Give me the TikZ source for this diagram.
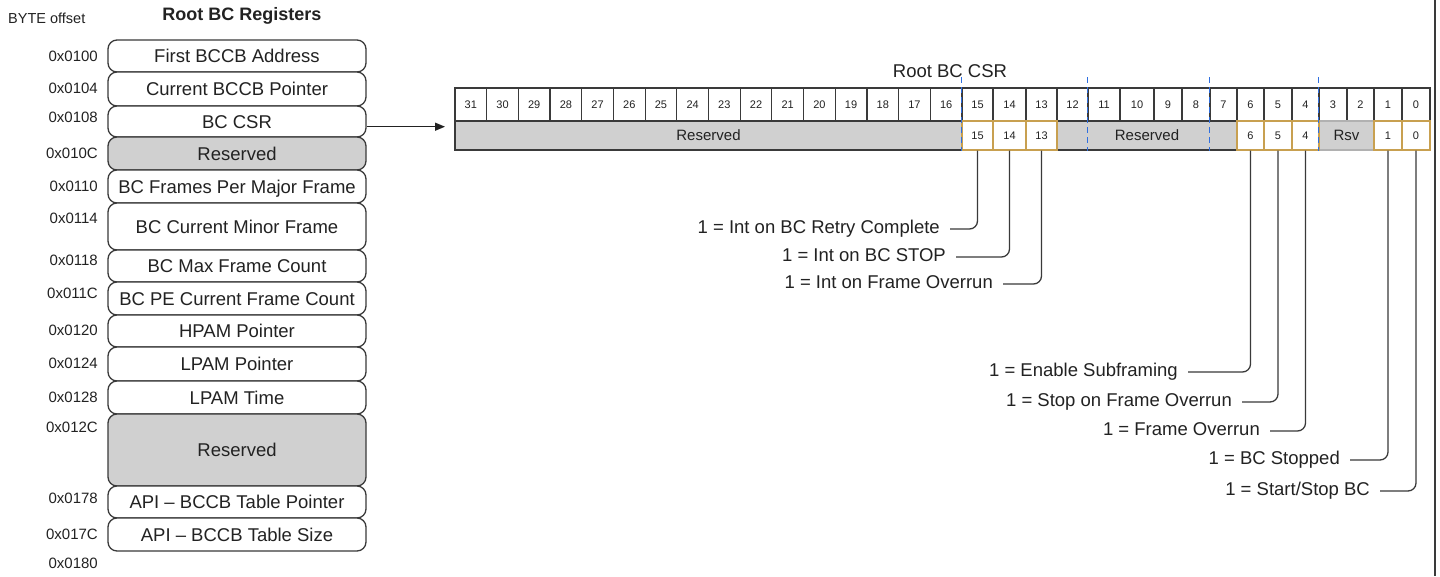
\documentclass[tikz,border=0pt]{standalone}
\usepackage{fontspec}
\setmainfont{Liberation Sans}
\usetikzlibrary{arrows.meta}
\definecolor{ink}{HTML}{222222}
\definecolor{edge}{HTML}{3A3A3A}
\definecolor{resgray}{HTML}{D0D0D0}
\definecolor{gold}{HTML}{C8A050}
\definecolor{sepblue}{HTML}{2F6FE0}
\begin{document}
\begin{tikzpicture}[x=1pt,y=-1pt,
  txt/.style={text=ink, inner sep=0pt, text depth=0pt},
  regbox/.style={txt, text height=13.25pt, draw=edge, line width=1.3pt, rounded corners=9pt, fill=white, minimum width=258pt, font=\fontsize{18.5}{22}\selectfont},
  resbox/.style={regbox, fill=resgray},
  offs/.style={txt, text height=10.74pt, anchor=east, font=\fontsize{15}{18}\selectfont},
  bitcell/.style={txt, text height=7.9pt, draw=edge, line width=1.2pt, fill=white, font=\fontsize{11}{13}\selectfont, minimum height=33pt},
  flagcell/.style={txt, text height=7.9pt, draw=gold, line width=1.2pt, fill=white, font=\fontsize{11}{13}\selectfont, minimum height=29pt},
  rescell/.style={txt, text height=10.74pt, draw=edge, line width=1.2pt, fill=resgray, font=\fontsize{15}{18}\selectfont, minimum height=29pt},
  rsvcell/.style={rescell, draw=resgray!85!black},
  note/.style={txt, text height=13.25pt, anchor=east, font=\fontsize{18.5}{22}\selectfont},
  callout/.style={draw=edge, line width=1.3pt, rounded corners=8pt},
  sepline/.style={draw=sepblue, line width=1.6pt, dash pattern=on 6pt off 4pt}
]
\useasboundingbox[fill=white] (0,0) rectangle (1440,576);

% headings
\node[txt, text height=10.4pt, anchor=west, font=\fontsize{14.5}{17}\selectfont] (byteoff) at (8,18) {BYTE offset};
\node[txt, text height=12.9pt, font=\bfseries\fontsize{18}{21}\selectfont] (rootregs) at (242,14) {Root BC Registers};

% register stack
\node[regbox, minimum height=32pt] (r0100) at (237,56) {First BCCB Address};
\node[regbox, minimum height=34pt] (r0104) at (237,89) {Current BCCB Pointer};
\node[regbox, minimum height=31pt] (r0108) at (237,121.5) {BC CSR};
\node[resbox, minimum height=33pt] (r010C) at (237,153.5) {Reserved};
\node[regbox, minimum height=33pt] (r0110) at (237,186.5) {BC Frames Per Major Frame};
\node[regbox, minimum height=47pt] (r0114) at (237,226.5) {BC Current Minor Frame};
\node[regbox, minimum height=32pt] (r0118) at (237,266) {BC Max Frame Count};
\node[regbox, minimum height=33pt] (r011C) at (237,298.5) {BC PE Current Frame Count};
\node[regbox, minimum height=32pt] (r0120) at (237,331) {HPAM Pointer};
\node[regbox, minimum height=34pt] (r0124) at (237,364) {LPAM Pointer};
\node[regbox, minimum height=33pt] (r0128) at (237,397.5) {LPAM Time};
\node[resbox, minimum height=72pt] (r012C) at (237,450) {Reserved};
\node[regbox, minimum height=32pt] (r0178) at (237,502) {API -- BCCB Table Pointer};
\node[regbox, minimum height=33pt] (r017C) at (237,534.5) {API -- BCCB Table Size};

% offsets
\foreach \lab/\yy in {0100/56,0104/88,0108/117,010C/153,0110/186,0114/218,0118/260,011C/293,0120/330,0124/363,0128/397,012C/427,0178/498,017C/534,0180/563}
  \node[offs] (o\lab) at (98,\yy) {0x\lab};

% CSR title
\node[txt, text height=13.25pt, font=\fontsize{18.5}{22}\selectfont] (csrtitle) at (950,71) {Root BC CSR};

% top row of bit numbers
\foreach \b in {16,...,31}{
  \pgfmathsetmacro\cellx{455+(31-\b+0.5)*31.6875}
  \node[bitcell, minimum width=31.6875pt] (t\b) at (\cellx,104.5) {\b};
}
\foreach \b/\l/\r in {15/962/993,14/993/1026,13/1026/1057,12/1057/1088,11/1088/1120,10/1120/1154,9/1154/1182,8/1182/1210,7/1210/1237,6/1237/1264,5/1264/1292,4/1292/1319,3/1319/1347,2/1347/1374,1/1374/1402,0/1402/1430}{
  \pgfmathsetmacro\cellw{\r-\l}
  \pgfmathsetmacro\cellx{(\l+\r)/2}
  \node[bitcell, minimum width=\cellw pt] (t\b) at (\cellx,104.5) {\b};
}

% bottom row of fields
\node[rescell, minimum width=507pt] (resA) at (708.5,135.5) {Reserved};
\node[rescell, minimum width=180pt] (resB) at (1147,135.5) {Reserved};
\node[rsvcell, minimum width=55pt] (rsv) at (1346.5,135.5) {Rsv};
\foreach \b/\l/\r in {15/962/993,14/993/1026,13/1026/1057,6/1237/1264,5/1264/1292,4/1292/1319,1/1374/1402,0/1402/1430}{
  \pgfmathsetmacro\cellw{\r-\l}
  \pgfmathsetmacro\cellx{(\l+\r)/2}
  \node[flagcell, minimum width=\cellw pt] (b\b) at (\cellx,135.5) {\b};
}

% byte separators
\foreach \n in {t15,t11,t7,t3}
  \draw[sepline] ([yshift=10pt]\n.north west) -- (\n.north west |- resA.south);

% arrow from BC CSR
\coordinate (tip) at (445,126.7);
\draw[line width=1.3pt, draw=ink, -{Triangle[length=10pt,width=8pt]}] (r0108.east |- tip) -- (tip);

% flag descriptions
\node[note] (n15) at (940,227) {1 = Int on BC Retry Complete};
\node[note] (n14) at (946,255) {1 = Int on BC STOP};
\node[note] (n13) at (993,282) {1 = Int on Frame Overrun};
\node[note] (n6) at (1178,370) {1 = Enable Subframing};
\node[note] (n5) at (1232,400) {1 = Stop on Frame Overrun};
\node[note] (n4) at (1260,429) {1 = Frame Overrun};
\node[note] (n1) at (1340,458) {1 = BC Stopped};
\node[note] (n0) at (1370,489) {1 = Start/Stop BC};
\foreach \n in {15,14,13,6,5,4,1,0}
  \draw[callout] ([xshift=10pt,yshift=-2pt]n\n.east) -| (b\n.south);

% right frame edge
\draw[line width=2pt, draw=edge] (1435,0) -- (1435,576);
\end{tikzpicture}
\end{document}
